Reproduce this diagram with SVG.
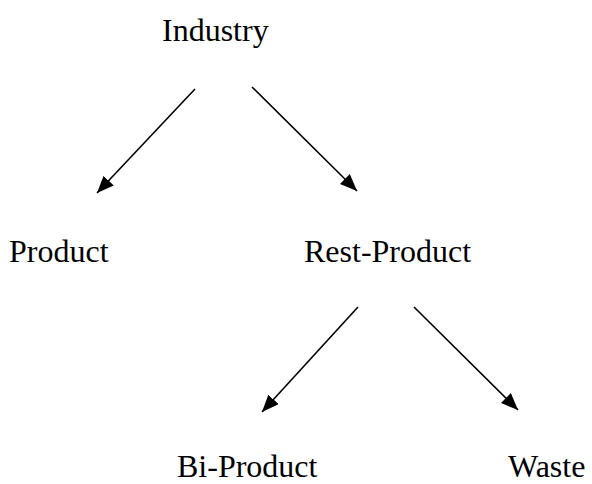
<svg xmlns="http://www.w3.org/2000/svg" width="592" height="484" viewBox="0 0 592 484">
<style>
text { font-family: "Liberation Serif", "Times New Roman", serif; font-size: 32px; fill: #000; }
.edge { stroke: #000; stroke-width: 1.6; fill: none; marker-end: url(#arrow); }
</style>
<defs>
<marker id="arrow" viewBox="0 0 10 10" refX="10" refY="5" markerWidth="17" markerHeight="14" markerUnits="userSpaceOnUse" orient="auto" preserveAspectRatio="none">
<path d="M0,0 L10,5 L0,10 z" fill="#000"/>
</marker>
</defs>
<rect width="592" height="484" fill="#fff"/>
<g id="connectors">
<line class="edge" x1="195" y1="89" x2="97" y2="193"/>
<line class="edge" x1="252" y1="87" x2="357" y2="191"/>
<line class="edge" x1="358" y1="307" x2="262" y2="412"/>
<line class="edge" x1="414" y1="307" x2="518" y2="410"/>
</g>
<g id="industry"><text x="162" y="41">Industry</text></g>
<g id="product"><text x="9" y="262">Product</text></g>
<g id="rest-product"><text x="304" y="262">Rest-Product</text></g>
<g id="bi-product"><text x="177" y="477">Bi-Product</text></g>
<g id="waste"><text x="508" y="477">Waste</text></g>
</svg>
